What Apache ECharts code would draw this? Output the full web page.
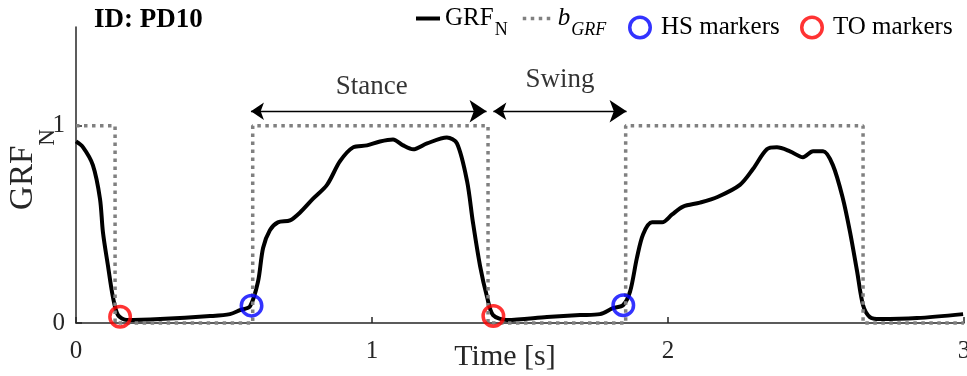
<!DOCTYPE html>
<html><head><meta charset="utf-8">
<script src="https://cdn.jsdelivr.net/npm/echarts@6/dist/echarts.min.js"></script>
<style>html,body{margin:0;padding:0;background:#fff}#c{width:967px;height:376px}</style>
</head><body><div id="c"></div>
<script>
// ---- data ----
const grfT = [0, 0.024, 0.057, 0.081, 0.091, 0.108, 0.125, 0.142, 0.172, 0.284, 0.453, 0.520, 0.554, 0.588,
  0.615, 0.632, 0.655, 0.682, 0.723, 0.757, 0.801, 0.848, 0.892, 0.936, 0.983, 1.027, 1.071, 1.105, 1.139,
  1.186, 1.253, 1.287, 1.321, 1.341, 1.365, 1.389, 1.409, 1.456, 1.591, 1.703, 1.770, 1.814, 1.848, 1.872,
  1.895, 1.916, 1.946, 1.980, 2.014, 2.051, 2.108, 2.169, 2.243, 2.287, 2.334, 2.368, 2.412, 2.456, 2.490,
  2.524, 2.557, 2.591, 2.615, 2.639, 2.659, 2.682, 2.716, 2.841, 2.997];
const grfV = [0.92, 0.89, 0.80, 0.63, 0.46, 0.29, 0.13, 0.04, 0.015, 0.02, 0.035, 0.045, 0.065, 0.085,
  0.21, 0.38, 0.47, 0.51, 0.52, 0.56, 0.63, 0.70, 0.82, 0.89, 0.90, 0.92, 0.93, 0.90, 0.88,
  0.91, 0.94, 0.91, 0.72, 0.51, 0.29, 0.13, 0.04, 0.015, 0.03, 0.04, 0.045, 0.075, 0.09, 0.16,
  0.33, 0.45, 0.51, 0.51, 0.55, 0.59, 0.61, 0.64, 0.70, 0.78, 0.88, 0.89, 0.87, 0.84, 0.87,
  0.87, 0.80, 0.63, 0.46, 0.26, 0.09, 0.03, 0.02, 0.025, 0.045];
const bT = [0, 0.132, 0.132, 0.597, 0.597, 1.392, 1.392, 1.857, 1.857, 2.659, 2.659, 3.0];
const bV = [1, 1, 0, 0, 1, 1, 0, 0, 1, 1, 0, 0];
const hsT = [0.593, 1.849];
const hsV = [0.088, 0.09];
const toT = [0.149, 1.41];
const toV = [0.032, 0.035];
const stanceArrow = [[0.591, 1.073], [1.387, 1.073]];
const swingArrow = [[1.41, 1.073], [1.860, 1.073]];
const phaseNames = ['Stance', 'Swing'];
const phaseT = [0.999, 1.635];
const phaseV = [1.198, 1.231];
const xTicks = [0, 1, 2, 3];
const yTicks = [0, 1];

// ---- chart ----
const FF = 'Liberation Serif';
const pairs = (a, b) => a.map((t, i) => [t, b[i]]);
const chart = echarts.init(document.getElementById('c'), null, {renderer: 'canvas'});
const legendBase = {
  orient: 'horizontal', padding: 0, selectedMode: false,
  textStyle: {fontFamily: FF, fontSize: 25, color: '#000',
    rich: {
      m: {fontFamily: FF, fontSize: 25, color: '#000', verticalAlign: 'middle'},
      s: {fontFamily: FF, fontSize: 18, color: '#000', verticalAlign: 'middle', padding: [24, 0, 0, 1]},
      i: {fontFamily: FF, fontSize: 25, color: '#000', fontStyle: 'italic', verticalAlign: 'middle'},
      si: {fontFamily: FF, fontSize: 18, color: '#000', fontStyle: 'italic', verticalAlign: 'middle', padding: [24, 0, 0, 1]}
    }}
};
const option = {
  animation: false,
  backgroundColor: '#fff',
  title: {text: 'ID: PD10', left: 94, top: 7, padding: 0,
    textStyle: {fontFamily: FF, fontSize: 27, fontWeight: 'bold', color: '#000'}},
  legend: [
    Object.assign({}, legendBase, {data: ['GRF_N'], left: 414, top: 6, itemWidth: 24, itemHeight: 12,
      formatter: '{m|GRF}{s|N}', lineStyle: {width: 4, color: '#000'},
      itemStyle: {color: 'transparent', borderWidth: 0, opacity: 0}}),
    Object.assign({}, legendBase, {data: ['b_GRF'], left: 521, top: 6, itemWidth: 30, itemHeight: 12,
      formatter: '{i|b}{si|GRF}', lineStyle: {width: 3.5, color: '#808080', type: [3.5, 4.5]},
      itemStyle: {color: 'transparent', borderWidth: 0, opacity: 0}}),
    Object.assign({}, legendBase, {data: ['HS markers'], left: 628, top: 15, itemWidth: 32, itemHeight: 20.5,
      itemStyle: {color: 'transparent', borderColor: '#0000ff', borderWidth: 3.5}}),
    Object.assign({}, legendBase, {data: ['TO markers'], left: 800, top: 15, itemWidth: 32, itemHeight: 20.5,
      itemStyle: {color: 'transparent', borderColor: '#ff0000', borderWidth: 3.5}})
  ],
  grid: {left: 76, right: 3, top: 27, bottom: 53, containLabel: false, outerBoundsMode: 'none'},
  xAxis: {
    type: 'value', min: 0, max: 3, interval: 1,
    name: 'Time [s]', nameLocation: 'middle', nameGap: 19, nameMoveOverlap: false,
    nameTextStyle: {fontFamily: FF, fontSize: 30, color: '#262626', padding: [0, 30, 0, 0]},
    axisLine: {show: true, onZero: false, lineStyle: {color: '#262626', width: 1.5}},
    axisTick: {show: true, inside: true, length: 6, customValues: xTicks, lineStyle: {color: '#262626', width: 1.5}},
    axisLabel: {fontFamily: FF, fontSize: 25, color: '#262626', margin: 16, customValues: xTicks},
    splitLine: {show: false}
  },
  yAxis: {
    type: 'value', min: 0, max: 1.5, interval: 0.5,
    name: '{m|GRF}{s|N}', nameLocation: 'middle', nameGap: 17, nameMoveOverlap: false,
    nameTextStyle: {fontFamily: FF, fontSize: 33, color: '#262626', padding: [0, 0, 0, 11],
      rich: {
        m: {fontFamily: FF, fontSize: 33, color: '#262626', verticalAlign: 'middle'},
        s: {fontFamily: FF, fontSize: 23, color: '#262626', verticalAlign: 'middle', padding: [48, 0, 0, 0]}
      }},
    axisLine: {show: true, onZero: false, lineStyle: {color: '#262626', width: 1.5}},
    axisTick: {show: true, inside: true, length: 6, customValues: yTicks, lineStyle: {color: '#262626', width: 1.5}},
    axisLabel: {fontFamily: FF, fontSize: 25, color: '#262626', margin: 11, customValues: yTicks,
      formatter: v => (yTicks.indexOf(v) >= 0 ? String(v) : '')},
    splitLine: {show: false}
  },
  series: [
    {name: 'GRF_N', type: 'line', data: pairs(grfT, grfV), symbol: 'none', smooth: 0.3,
      lineStyle: {color: '#000', width: 4}, z: 3, clip: false},
    {name: 'b_GRF', type: 'line', data: pairs(bT, bV), symbol: 'none',
      lineStyle: {color: '#808080', width: 3.5, type: [3.5, 4.5], cap: 'butt'}, z: 4, clip: false},
    {name: 'HS markers', type: 'scatter', data: pairs(hsT, hsV), symbol: 'circle', symbolSize: 20.5,
      itemStyle: {color: 'transparent', borderColor: '#0000ff', borderWidth: 3.5}, z: 5},
    {name: 'TO markers', type: 'scatter', data: pairs(toT, toV), symbol: 'circle', symbolSize: 20.5,
      itemStyle: {color: 'transparent', borderColor: '#ff0000', borderWidth: 3.5}, z: 5},
    {name: 'phaseArrows', type: 'lines', coordinateSystem: 'cartesian2d', polyline: false,
      symbol: ['arrow', 'arrow'], symbolSize: [13, 17],
      lineStyle: {color: '#000', width: 1.3, opacity: 1},
      data: [{coords: stanceArrow}, {coords: swingArrow}], z: 6},
    {name: 'phaseText', type: 'scatter', symbolSize: 1, itemStyle: {color: 'transparent'},
      data: phaseNames.map((n, i) => ({name: n, value: [phaseT[i], phaseV[i]]})),
      label: {show: true, position: 'inside', formatter: '{b}', fontFamily: FF, fontSize: 27, color: '#000'},
      z: 6, silent: true}
  ]
};
chart.setOption(option);
</script>
</body></html>
